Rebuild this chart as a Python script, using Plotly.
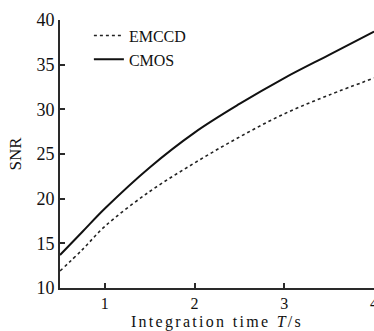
import plotly.graph_objects as go

# Data
integration_time = [0.5, 0.75, 1.0, 1.5, 2.0, 2.5, 3.0, 3.5, 4.0]
snr_emccd = [11.9, 14.3, 16.9, 20.8, 24.0, 26.9, 29.5, 31.6, 33.5]
snr_cmos = [13.7, 16.3, 18.9, 23.5, 27.4, 30.6, 33.5, 36.1, 38.7]
x_ticks = [1, 2, 3, 4]
y_ticks = [10, 15, 20, 25, 30, 35, 40]

FONT = "Liberation Serif"
AX = "#2a2a2a"

fig = go.Figure()
fig.add_trace(go.Scatter(
    x=integration_time, y=snr_emccd, name="EMCCD", mode="lines",
    line=dict(color="#222222", width=1.6, dash="dot", shape="spline"),
))
fig.add_trace(go.Scatter(
    x=integration_time, y=snr_cmos, name="CMOS", mode="lines",
    line=dict(color="#111111", width=2, shape="spline"),
))

fig.update_layout(
    width=374, height=331,
    margin=dict(l=60, r=0, t=20, b=43),
    paper_bgcolor="white", plot_bgcolor="white",
    font=dict(family=FONT, size=18, color="#111111"),
    showlegend=True,
    legend=dict(x=0.092, y=1.005, xanchor="left", yanchor="top",
                bgcolor="rgba(0,0,0,0)", font=dict(family=FONT, size=16),
                itemwidth=30, tracegroupgap=0),
    xaxis=dict(
        range=[0.5, 4.0], tickvals=x_ticks, ticks="inside", ticklen=5,
        tickwidth=1.5, tickcolor=AX, showline=True, linecolor=AX, linewidth=2,
        showgrid=False, zeroline=False, automargin=False,
        ticklabeloverflow="allow", tickfont=dict(family=FONT, size=16),
        title=dict(text='<span style="letter-spacing:2.3px">Integration time <i>T</i>/s</span>',
                   standoff=5, font=dict(family=FONT, size=16)),
    ),
    yaxis=dict(
        range=[10, 40], tickvals=y_ticks, ticks="inside", ticklen=5,
        tickwidth=1.5, tickcolor=AX, showline=True, linecolor=AX, linewidth=2,
        showgrid=False, zeroline=False, automargin=False,
        tickfont=dict(family=FONT, size=18),
        title=dict(text="SNR", standoff=10, font=dict(family=FONT, size=17)),
    ),
)

fig.write_html(
    "out.html",
    config={"displayModeBar": False},
    post_script="document.body.style.margin='0';document.body.style.overflow='hidden';",
)
